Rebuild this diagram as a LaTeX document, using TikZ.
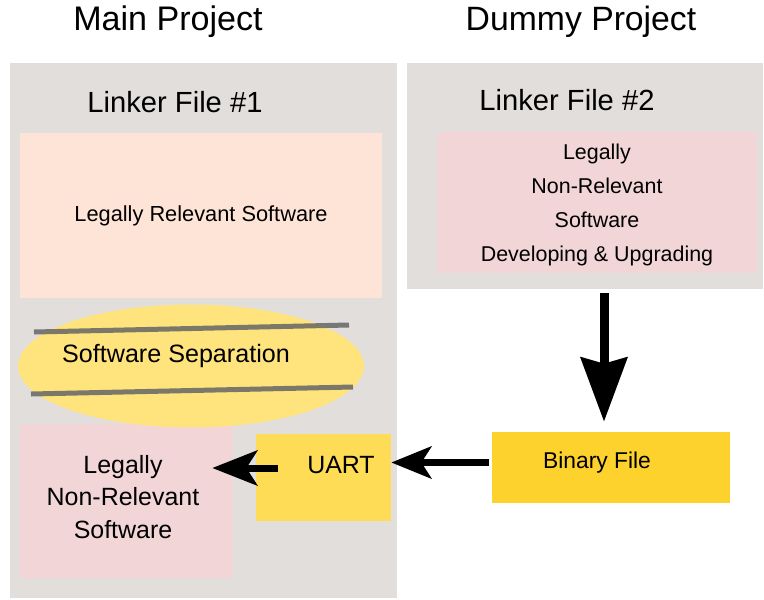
\documentclass[tikz,border=0pt]{standalone}
\usepackage{fontspec}
\setmainfont{Liberation Sans}
\usetikzlibrary{arrows.meta,shapes.geometric}

\definecolor{panelgray}{HTML}{E2DEDC}
\definecolor{peach}{HTML}{FDE4D6}
\definecolor{softpink}{HTML}{F2D6D7}
\definecolor{sepyellow}{HTML}{FFE47E}
\definecolor{uartyellow}{HTML}{FFDC55}
\definecolor{binyellow}{HTML}{FDD22C}

\begin{document}
\begin{tikzpicture}[x=0.02cm, y=-0.02cm,
    box/.style={rectangle, inner sep=0pt, draw=none},
    txt/.style={inner sep=0pt, text=black},
    sepline/.style={draw=black!60, opacity=0.85, line width=0.1cm},
    bigarrow/.style={line width=0.18cm, -{Stealth[length=1.28cm, width=0.92cm, inset=0.12cm]}},
    midarrow/.style={line width=0.14cm, -{Stealth[length=0.8cm, width=0.64cm, inset=0.2cm]}}]
    \useasboundingbox (0,0) rectangle (764,599);

    % Draw the two project panels
    \node[box, fill=panelgray, minimum width=7.74cm, minimum height=10.7cm] (mainpanel) at (203.5,330.5) {};
    \node[box, fill=panelgray, minimum width=7.12cm, minimum height=4.52cm] (dummypanel) at (585,176) {};

    % Titles
    \node[txt, font=\fontsize{19.4}{23}\selectfont] (maintitle) at (168,22) {Main Project};
    \node[txt, font=\fontsize{19.2}{23}\selectfont] (dummytitle) at (581,22) {Dummy Project};
    \node[txt, font=\fontsize{16.6}{20}\selectfont] (linkerone) at (175,102) {Linker File \#1};
    \node[txt, font=\fontsize{16.6}{20}\selectfont] (linkertwo) at (567,100) {Linker File \#2};

    % Main project contents
    \node[box, fill=peach, minimum width=7.24cm, minimum height=3.3cm,
          font=\fontsize{12.4}{15}\selectfont] (relevant) at (201,215.5) {Legally Relevant Software};
    \node[box, fill=softpink, minimum width=4.26cm, minimum height=3.08cm] (nonrelone) at (126.5,501) {};
    \node[txt, align=center, font=\fontsize{14.2}{18.4}\selectfont] (nonrelonetext) at (123,497) {Legally\\Non-Relevant\\Software};
    \node[ellipse, fill=sepyellow, inner sep=0pt, minimum width=6.92cm, minimum height=2.46cm] (separation) at (191,366) {};
    \node[txt, font=\fontsize{14.3}{17}\selectfont] (septext) at (176,356) {Software Separation};
    \draw[sepline] (34,332) -- (349,325);
    \draw[sepline] (31,394) -- (353,387);
    \node[box, fill=uartyellow, minimum width=2.7cm, minimum height=1.74cm] (uart) at (323.5,477.5) {};
    \node[txt, font=\fontsize{14.2}{17}\selectfont] (uarttext) at (341,465) {UART};

    % Dummy project contents
    \node[box, fill=softpink, minimum width=6.4cm, minimum height=2.82cm] (nonreltwo) at (597,202.5) {};
    \node[txt, align=center, font=\fontsize{12.2}{19.3}\selectfont] (nonreltwotext) at (597,205) {Legally\\Non-Relevant\\Software\\Developing \& Upgrading};
    \node[box, fill=binyellow, minimum width=4.76cm, minimum height=1.42cm] (binary) at (611,467.5) {};
    \node[txt, font=\fontsize{13}{16}\selectfont] (binarytext) at (597,463) {Binary File};

    % Arrows
    \coordinate (dn) at (604,300);
    \draw[bigarrow, shorten <=0.08cm, shorten >=0.2cm] (dummypanel.south -| dn) -- (binary.north -| dn);
    \draw[midarrow, shorten <=0.06cm] ([yshift=0.1cm]binary.west) -- ([yshift=0.1cm]binary.west -| uart.east);
    \draw[midarrow, -{Stealth[length=0.9cm, width=0.7cm, inset=0.22cm]}]
        ([shift={(0.44cm,0.19cm)}]uart.west) -- ([shift={(-0.42cm,0.19cm)}]uart.west -| nonrelone.east);
\end{tikzpicture}
\end{document}
